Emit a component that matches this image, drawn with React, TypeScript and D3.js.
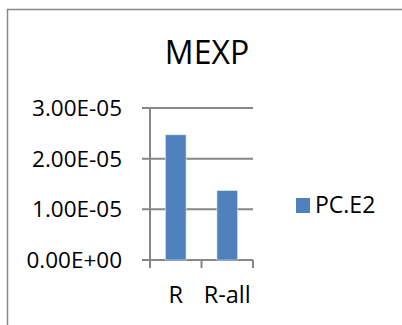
import React from "react";
import * as d3 from "d3";

// Chart data
const categories: string[] = ["R", "R-all"];
const seriesName = "PC.E2";
const values: number[] = [2.47e-5, 1.37e-5];
const yTicks: number[] = [0, 1e-5, 2e-5, 3e-5];
const yTickLabels: string[] = ["0.00E+00", "1.00E-05", "2.00E-05", "3.00E-05"];

const W = 402;
const H = 325;
const FONT = "'Open Sans', 'Liberation Sans', sans-serif";
const BAR = "#4F81BD";
const GRID = "#878787";

export default function App() {
  const plot = { left: 150, right: 253, top: 108, bottom: 260 };
  const y = d3.scaleLinear().domain([0, 3e-5]).range([plot.bottom, plot.top]);
  const x = d3
    .scaleBand<string>()
    .domain(categories)
    .range([plot.left, plot.right])
    .paddingInner(0.6)
    .paddingOuter(0.3);
  const step = x.step();
  const boundaries = d3.range(categories.length + 1).map((i) => plot.left + i * step);

  return (
    <svg
      width={W}
      height={H}
      style={{ position: "absolute", left: 0, top: 0, background: "#fff" }}
      fontFamily={FONT}
    >
      <rect x={0} y={0} width={W} height={H} fill="#fff" />
      {/* chart area frame */}
      <rect x={7.5} y={9.5} width={W + 20} height={H + 20} fill="none" stroke={GRID} strokeWidth={1.5} />

      <text x={207} y={64} textAnchor="middle" fontSize={32} fill="#000">
        MEXP
      </text>

      {/* horizontal gridlines with outward ticks */}
      {yTicks.map((t) => (
        <line key={"g" + t} x1={plot.left - 8} x2={plot.right} y1={y(t)} y2={y(t)} stroke={GRID} strokeWidth={2} />
      ))}
      {yTicks.map((t, i) => (
        <text key={"l" + t} x={122} y={y(t)} dy="0.36em" textAnchor="end" fontSize={22.5} fill="#000">
          {yTickLabels[i]}
        </text>
      ))}

      {/* bars */}
      {categories.map((c, i) => (
        <rect
          key={c}
          x={x(c)}
          y={y(values[i])}
          width={x.bandwidth()}
          height={y(0) - y(values[i])}
          fill={BAR}
          stroke="#dce6f2"
          strokeWidth={0.6}
        />
      ))}

      {/* axes */}
      <line x1={plot.left} x2={plot.left} y1={plot.top} y2={plot.bottom} stroke={GRID} strokeWidth={2} />
      {boundaries.map((b) => (
        <line key={"t" + b} x1={b} x2={b} y1={plot.bottom} y2={plot.bottom + 8} stroke={GRID} strokeWidth={2} />
      ))}
      {categories.map((c) => (
        <text key={"x" + c} x={(x(c) as number) + x.bandwidth() / 2} y={303} textAnchor="middle" fontSize={23.5} fill="#000">
          {c}
        </text>
      ))}

      {/* legend */}
      <rect x={296} y={198} width={14} height={15} fill={BAR} />
      <text x={315} y={213} fontSize={23} fill="#000">
        {seriesName}
      </text>
    </svg>
  );
}
